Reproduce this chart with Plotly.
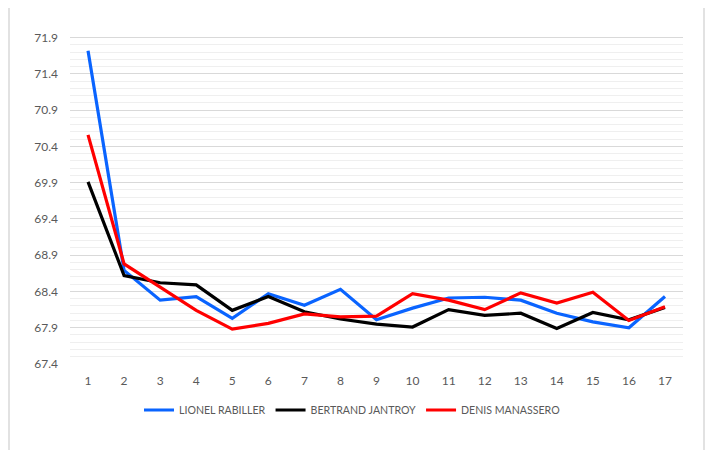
import plotly.graph_objects as go

categories = [str(i) for i in range(1, 18)]
lionel = [71.72, 68.69, 68.28, 68.33, 68.03, 68.37, 68.21, 68.43, 68.01, 68.17, 68.31, 68.32, 68.28, 68.10, 67.98, 67.90, 68.33]
bertrand = [69.91, 68.62, 68.52, 68.49, 68.14, 68.33, 68.12, 68.02, 67.95, 67.91, 68.15, 68.07, 68.10, 67.89, 68.11, 68.01, 68.18]
denis = [70.56, 68.78, 68.46, 68.14, 67.88, 67.96, 68.09, 68.05, 68.06, 68.37, 68.28, 68.15, 68.38, 68.24, 68.39, 68.00, 68.19]
series_names = ["LIONEL RABILLER", "BERTRAND JANTROY", "DENIS MANASSERO"]
series_colors = ["#0A64FF", "#000000", "#FF0000"]
y_ticks = [67.4, 67.9, 68.4, 68.9, 69.4, 69.9, 70.4, 70.9, 71.4, 71.9]

W, H = 714, 450
OFF = 8  # page body margin compensation
ML, MT = 70 - OFF, 30 - OFF
PW, PH = 613, 334
MR = W - ML - PW
MB = H - MT - PH
FONT = "Lato, Open Sans, sans-serif"

fig = go.Figure()
for name, vals, col in zip(series_names, [lionel, bertrand, denis], series_colors):
    fig.add_trace(go.Scatter(x=categories, y=vals, mode="lines", name=name,
                             line=dict(color=col, width=3.2)))

def px_x(p):
    return (p - OFF - ML) / PW
def px_y(p):
    return (MT + PH - (p - OFF)) / PH

fig.add_shape(type="rect", xref="paper", yref="paper",
              x0=px_x(9), x1=px_x(704), y0=px_y(480), y1=px_y(7),
              line=dict(color="#d9d9d9", width=1.5), fillcolor="rgba(0,0,0,0)", layer="below")

fig.update_layout(
    width=W, height=H,
    margin=dict(l=ML, r=MR, t=MT, b=MB, autoexpand=False),
    paper_bgcolor="white", plot_bgcolor="white",
    font=dict(family=FONT, size=12, color="#595959"),
    showlegend=True,
    legend=dict(orientation="h", xref="container", yref="container",
                x=(352 - OFF) / W, xanchor="center", y=1 - (410 - OFF) / H, yanchor="middle",
                font=dict(family=FONT, size=10.6, color="#595959"),
                itemwidth=30, traceorder="normal"),
    xaxis=dict(type="category", range=[-0.5, 16.5], showgrid=False, zeroline=False, showline=False,
               ticks="", tickfont=dict(size=12, color="#595959"),
               ticklabelstandoff=8),
    yaxis=dict(range=[67.4, 72.005], tickvals=y_ticks, ticktext=[f"{v:.1f}" for v in y_ticks],
               showgrid=True, gridcolor="#d9d9d9", gridwidth=1,
               zeroline=False, showline=False, ticks="",
               tickfont=dict(size=12, color="#595959"),
               ticklabelstandoff=11,
               minor=dict(dtick=0.1, tick0=67.4, showgrid=True, gridcolor="#efefef", gridwidth=1)),
)

fig.write_html("out.html")
